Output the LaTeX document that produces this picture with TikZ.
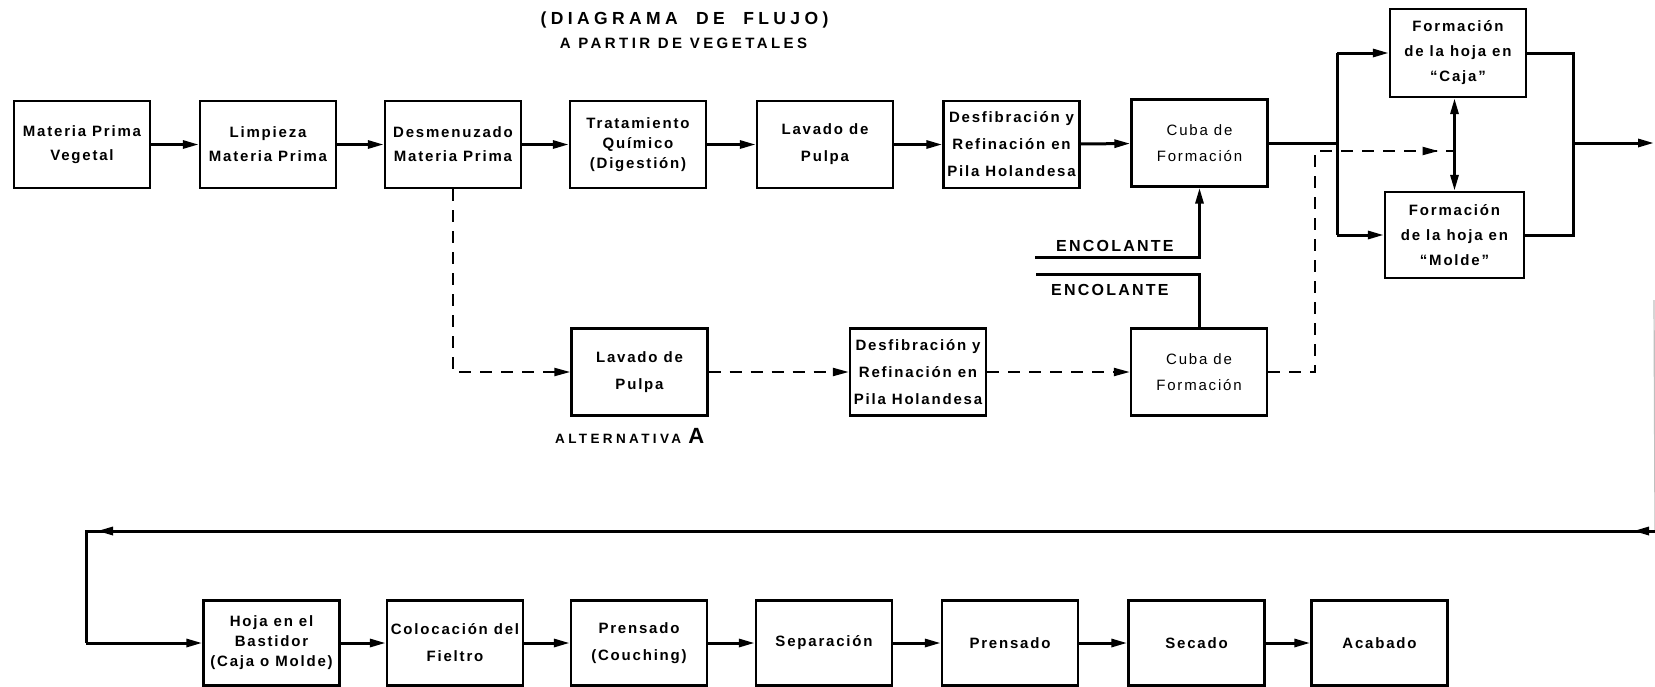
\documentclass[tikz,border=0pt]{standalone}
\usepackage{fontspec}
\setmainfont{Liberation Sans}
\newfontfamily\bxf[LetterSpace=12]{Liberation Sans}
\newfontfamily\ttlf[LetterSpace=25]{Liberation Sans}
\newfontfamily\sttf[LetterSpace=23]{Liberation Sans}
\newfontfamily\encf[LetterSpace=14]{Liberation Sans}
\usetikzlibrary{arrows.meta,decorations.markings}
\tikzset{
  pbox/.style={draw, line width=2.4pt, minimum width=136pt, minimum height=87pt,
    inner sep=0pt, align=center, font=\bxf\bfseries\fontsize{15}{24}\selectfont},
  threel/.style={font=\bxf\bfseries\fontsize{15}{20}\selectfont},
  widel/.style={font=\bxf\bfseries\fontsize{15}{27}\selectfont},
  cajal/.style={font=\bxf\bfseries\fontsize{15}{25}\selectfont},
  lightl/.style={font=\bxf\fontsize{15}{26}\selectfont},
  conn/.style={line width=3pt},
  arr/.style={line width=3pt, -{Triangle[length=16pt,width=8pt]}},
  dconn/.style={line width=2.2pt, dash pattern=on 12pt off 9pt},
  darr/.style={dconn, -{Triangle[length=16pt,width=8pt]}},
  lbl/.style={inner sep=0pt, anchor=base west},
}
\begin{document}
\begin{tikzpicture}[x=1pt,y=-1pt]
\useasboundingbox (0,0) rectangle (1655,686);

% titles
\node[font=\ttlf\bfseries\fontsize{17.5}{20}\selectfont] (t1) at (684.5,20) {(DIAGRAMA\ \ DE\ \ FLUJO)};
\node[font=\sttf\bfseries\fontsize{15}{18}\selectfont] (t2) at (683.5,43) {A PARTIR DE VEGETALES};

% top row
\node[pbox] (b1) at (82,144.5) {Materia Prima\\Vegetal};
\node[pbox] (b2) at (268,144.5) {Limpieza\\Materia Prima};
\node[pbox] (b3) at (453,144.5) {Desmenuzado\\Materia Prima};
\node[pbox, threel] (b4) at (638,144.5) {Tratamiento\\Químico\\(Digestión)};
\node[pbox, widel] (b5) at (825,144.5) {Lavado de\\Pulpa};
\node[pbox, widel] (b6) at (1011.5,144.5) {Desfibración y\\Refinación en\\Pila Holandesa};
\node[pbox, lightl] (b7) at (1199.5,143) {Cuba de\\Formación};
\node[pbox, cajal, minimum height=88pt] (caja) at (1458,53) {Formación\\de la hoja en\\“Caja”};
\node[pbox, cajal, minimum width=139pt, minimum height=86pt] (molde) at (1454.5,235) {Formación\\de la hoja en\\“Molde”};

% middle row
\node[pbox, widel] (lav2) at (639.5,372) {Lavado de\\Pulpa};
\node[pbox, widel] (des2) at (918,372) {Desfibración y\\Refinación en\\Pila Holandesa};
\node[pbox, lightl] (cub2) at (1199,372) {Cuba de\\Formación};

% bottom row
\node[pbox, threel, minimum height=85pt] (hoja) at (271.5,643) {Hoja en el\\Bastidor\\(Caja o Molde)};
\node[pbox, widel, minimum height=85pt] (col) at (455,643) {Colocación del\\Fieltro};
\node[pbox, widel, minimum height=85pt] (pr1) at (639,643) {Prensado\\(Couching)};
\node[pbox, minimum height=85pt] (sep) at (824,643) {Separación};
\node[pbox, minimum height=85pt] (pr2) at (1010,643) {Prensado};
\node[pbox, minimum height=85pt] (sec) at (1196.5,643) {Secado};
\node[pbox, minimum height=85pt] (aca) at (1379.5,643) {Acabado};

% labels
\node[lbl, font=\encf\bfseries\fontsize{16}{18}\selectfont] (enc1) at (1056,251) {ENCOLANTE};
\node[lbl, font=\encf\bfseries\fontsize{16}{18}\selectfont] (enc2) at (1051,295) {ENCOLANTE};
\node[lbl, font=\ttlf\bfseries\fontsize{13.5}{16}\selectfont] (alt) at (555,443) {ALTERNATIVA {\fontsize{22}{24}\selectfont\bxf A}};

% top row connectors
\foreach \a/\b in {b1/b2,b2/b3,b3/b4,b4/b5,b5/b6,b6/b7}
  \draw[arr] (\a) -- (\b);

% branch to Caja / Molde
\coordinate (brM) at (1337,143);
\coordinate (brT) at (1337,53);
\coordinate (brB) at (1337,235);
\draw[conn] (b7.east) -- (brM);
\draw[conn] (brT) -- (brB);
\draw[arr] (brT) -- (caja);
\draw[arr] (brB) -- (molde);
\coordinate (jn) at (1573,143);
\draw[conn] (caja.east) -| (jn);
\draw[conn] (molde.east) -| (jn);
\coordinate (out) at (1654,143);
\draw[arr] (jn) -- (out);
\draw[line width=3pt, {Triangle[length=16pt,width=8pt]}-{Triangle[length=16pt,width=8pt]}]
  (caja.south -| molde.north) -- (molde.north);

% encolante
\coordinate (e1) at (1035,257);
\draw[arr] (e1) -| (b7.south);
\coordinate (e2) at (1036,274);
\draw[conn] (e2) -| (cub2.north);

% alternative (dashed)
\draw[darr] (b3.south) |- (lav2.west);
\draw[darr] (lav2) -- (des2);
\draw[darr] (des2) -- (cub2);
\coordinate (d2) at (1315,372);
\coordinate (d3) at (1315,151);
\coordinate (d4) at (1454.5,151);
\draw[dconn, postaction={decorate},
  decoration={markings, mark=at position -16pt with {\arrow{Triangle[length=16pt,width=8pt]}}}]
  (cub2.east) -- (d2) -- (d3) -- (d4);

% return line to bottom row
\coordinate (edge) at (1654,300);
\coordinate (rin) at (1655,531);
\coordinate (rc) at (86,531);
\coordinate (rd) at (86,643);
\draw[black!25, line width=1.2pt] (edge) -- (rin);
\draw[conn, postaction={decorate},
  decoration={markings,
    mark=at position 22pt with {\arrow{Triangle[length=16pt,width=8pt]}},
    mark=at position 1558pt with {\arrow{Triangle[length=16pt,width=8pt]}}}]
  (rin) -- (rc) -- (rd);
\draw[arr] (rd) -- (hoja);

% bottom row connectors
\foreach \a/\b in {hoja/col,col/pr1,pr1/sep,sep/pr2,pr2/sec,sec/aca}
  \draw[arr] (\a) -- (\b);
\end{tikzpicture}
\end{document}
